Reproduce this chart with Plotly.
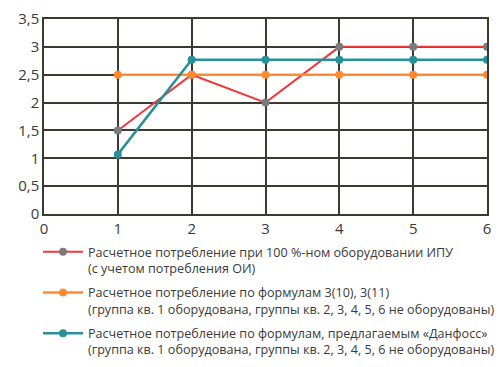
import plotly.graph_objects as go

x = [1, 2, 3, 4, 5, 6]
red_vals = [1.5, 2.5, 2.0, 3.0, 3.0, 3.0]
orange_vals = [2.5, 2.5, 2.5, 2.5, 2.5, 2.5]
teal_vals = [1.07, 2.77, 2.77, 2.77, 2.77, 2.77]

names = [
    "Расчетное потребление при 100 %-ном оборудовании ИПУ<br>(с учетом потребления ОИ)",
    "Расчетное потребление по формулам 3(10), 3(11)<br>(группа кв. 1 оборудована, группы кв. 2, 3, 4, 5, 6 не оборудованы)",
    "Расчетное потребление по формулам, предлагаемым «Данфосс»<br>(группа кв. 1 оборудована, группы кв. 2, 3, 4, 5, 6 не оборудованы)",
]
x_ticks = [0, 1, 2, 3, 4, 5, 6]
y_ticks = [0, 0.5, 1, 1.5, 2, 2.5, 3, 3.5]
y_tick_text = ["0", "0,5", "1", "1,5", "2", "2,5", "3", "3,5"]

W, H = 500, 367
fig = go.Figure()
fig.add_trace(go.Scatter(x=x, y=red_vals, name=names[0], mode="lines+markers",
                         line=dict(color="#f03a3a", width=2),
                         marker=dict(color="#7b7b7b", size=8), legendgroup="a"))
fig.add_trace(go.Scatter(x=x, y=orange_vals, name=names[1], mode="lines+markers",
                         line=dict(color="#ff8a30", width=2.5),
                         marker=dict(color="#ff8a30", size=8), legendgroup="b"))
fig.add_trace(go.Scatter(x=x, y=teal_vals, name=names[2], mode="lines+markers",
                         line=dict(color="#27919a", width=2.5),
                         marker=dict(color="#27919a", size=8), legendgroup="c"))

font_family = "Open Sans, Noto Sans, sans-serif"
fig.update_layout(
    template="none",
    width=W, height=H,
    margin=dict(l=0, r=0, t=0, b=0, pad=0),
    paper_bgcolor="white", plot_bgcolor="white",
    font=dict(family=font_family, color="#3a3a3a"),
    showlegend=True,
    legend=dict(
        x=41 / W, y=1 - 237 / H, xanchor="left", yanchor="top",
        font=dict(size=12.6, color="#3a3a3a", family=font_family),
        tracegroupgap=5, itemwidth=40, valign="top",
        bgcolor="rgba(0,0,0,0)", borderwidth=0,
    ),
    xaxis=dict(domain=[44 / W, 487 / W], range=[0, 6], tickvals=x_ticks,
               ticktext=[str(v) for v in x_ticks],
               showgrid=True, gridcolor="#3d3830", gridwidth=1.5,
               showline=True, linecolor="#3d3830", linewidth=1.5, mirror=True,
               zeroline=False, ticks="", tickfont=dict(size=15, color="#3a3a3a"),
               automargin=False, fixedrange=True),
    yaxis=dict(domain=[1 - 214 / H, 1 - 19 / H], range=[0, 3.5], tickvals=y_ticks,
               ticktext=y_tick_text,
               showgrid=True, gridcolor="#3d3830", gridwidth=1.5,
               showline=True, linecolor="#3d3830", linewidth=1.5, mirror=True,
               zeroline=False, ticks="", tickfont=dict(size=15, color="#3a3a3a"),
               automargin=False, fixedrange=True),
)

fig.write_html("out.html", config={"displayModeBar": False},
               post_script="document.body.style.margin='0';")
